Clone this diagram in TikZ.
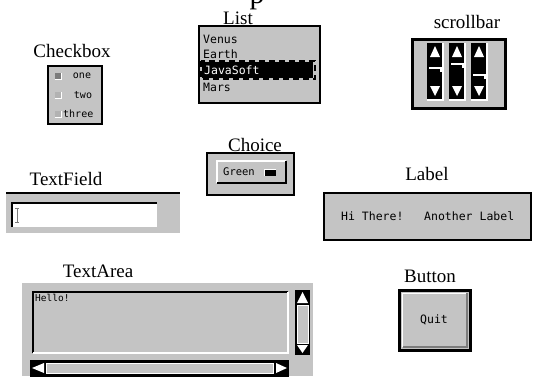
\documentclass[tikz,border=0pt]{standalone}
\usepackage{fontspec}
\setmainfont{Liberation Serif}
\newfontfamily\uifont{DejaVu Sans Mono}
\usetikzlibrary{positioning}
\definecolor{panel}{HTML}{C4C4C4}
\definecolor{bevel}{HTML}{7C7C7C}
\tikzset{
  caption/.style={font=\fontsize{19}{19}\selectfont, inner sep=0pt, anchor=base},
  uitext/.style={font=\uifont\fontsize{11.5}{12}\selectfont, inner sep=0pt},
  frame/.style={draw=black, line width=2.5pt, fill=panel},
}

\begin{document}
\begin{tikzpicture}[x=1pt,y=-1pt]
  \useasboundingbox (0,0) rectangle (537,376);
  \clip (0,0) rectangle (537,376);
  \node[caption, font=\fontsize{30}{30}\selectfont] (title) at (257,3) {p};

  \node[caption] (checkboxcap) at (72,57) {Checkbox};
  \draw[frame, line width=2pt] (48,66) rectangle (102,124);
  \foreach \y/\c in {76/bevel,95/gray!60,114/gray!60} {
    \fill[\c] (54.5,\y-3.5) rectangle (61.5,\y+3.5);
    \draw[white, line width=0.8pt] (54.5,\y+3.5) -- (61.5,\y+3.5) -- (61.5,\y-3.5);
  }
  \node[uitext, font=\uifont\fontsize{10}{10}\selectfont] (one) at (82,76) {one};
  \node[uitext, font=\uifont\fontsize{10}{10}\selectfont] (two) at (83,95) {two};
  \node[uitext, font=\uifont\fontsize{10}{10}\selectfont, anchor=west] (three) at (63,114) {three};

  \node[caption] (listcap) at (238,24) {List};
  \draw[frame, line width=2pt] (199,26) rectangle (320,103);
  \fill[black] (202,62) rectangle (313,78);
  \draw[black, dash pattern=on 6pt off 4pt, line width=1.5pt] (201,61) rectangle (315,79);
  \node[uitext, anchor=west] (venus) at (203,39) {Venus};
  \node[uitext, anchor=west] (earth) at (203,54) {Earth};
  \node[uitext, anchor=west, text=white] (javasoft) at (204,70) {JavaSoft};
  \node[uitext, anchor=west] (mars) at (203,87) {Mars};

  \node[caption] (scrollcap) at (467,28) {scrollbar};
  \draw[frame, line width=3pt] (412,39) rectangle (505,108);
  \foreach \x/\t in {427/68,449/64,471/75} {
    \fill[black] (\x,43) rectangle (\x+16,100);
    \draw[white, line width=1.5pt] (\x+16,43) -- (\x+16,100) -- (\x,100);
    \fill[white] (\x+8,46) -- (\x+13,57) -- (\x+3,57) -- cycle;
    \fill[white] (\x+8,96) -- (\x+13,86) -- (\x+3,86) -- cycle;
    \draw[white, line width=1.5pt] (\x+2,\t) -- (\x+14,\t) -- (\x+14,\t+4);
  }

  \node[caption] (choicecap) at (255,151) {Choice};
  \draw[frame] (207,153) rectangle (294,195);
  \fill[panel] (217,161) rectangle (286,183);
  \draw[white, line width=1.5pt] (217,183) -- (217,161) -- (286,161);
  \draw[black, line width=1.5pt] (286,161) -- (286,183) -- (217,183);
  \node[uitext, font=\uifont\fontsize{10.5}{11}\selectfont] (green) at (239,172) {Green};
  \fill[black] (264,169) rectangle (276,176);
  \draw[white, line width=1pt] (264,176) -- (264,169.5) -- (276,169.5);

  \node[caption] (textfieldcap) at (66,185) {TextField};
  \fill[panel] (6,193) rectangle (180,233);
  \draw[black, line width=2pt] (6,193) -- (180,193);
  \fill[white] (12,203) rectangle (157,227);
  \draw[black, line width=2pt] (12,227) -- (12,203) -- (157,203);
  \draw[bevel, line width=0.6pt] (15,208) -- (19,208) (17,208) -- (17,222) (15,222) -- (19,222);

  \node[caption] (labelcap) at (427,180) {Label};
  \draw[frame] (324,193) rectangle (531,240);
  \node[uitext, anchor=west] (hithere) at (341,216) {Hi There!};
  \node[uitext, anchor=west] (another) at (424,216) {Another Label};

  \node[caption] (textareacap) at (98,277) {TextArea};
  \fill[panel] (22,283) rectangle (313,376);
  \draw[black, line width=2pt] (33,353) -- (33,292) -- (288,292);
  \draw[white, line width=1.5pt] (288,292) -- (288,353) -- (33,353);
  \node[uitext, font=\uifont\fontsize{9.5}{10}\selectfont, anchor=north west] (hello) at (35,294) {Hello!};
  \fill[black] (295,290) rectangle (310,355);
  \fill[white] (302.5,292) -- (308,303) -- (297,303) -- cycle;
  \filldraw[fill=panel, draw=white, line width=1pt] (297,305) rectangle (308,343);
  \fill[white] (302.5,353) -- (308,345) -- (297,345) -- cycle;
  \fill[black] (30,360) rectangle (289,378);
  \fill[white] (32,368) -- (44,363) -- (44,373) -- cycle;
  \filldraw[fill=panel, draw=white, line width=1pt] (46,363) rectangle (273,373);
  \fill[white] (287,368) -- (276,363) -- (276,373) -- cycle;

  \node[caption] (buttoncap) at (430,282) {Button};
  \draw[frame, line width=3pt] (399,290) rectangle (470,350);
  \draw[white, line width=1pt] (402.5,347) -- (402.5,293) -- (467,293);
  \draw[bevel, line width=1.5pt] (467,293) -- (467,347) -- (402.5,347);
  \node[uitext] (quit) at (434,320) {Quit};
\end{tikzpicture}
\end{document}
